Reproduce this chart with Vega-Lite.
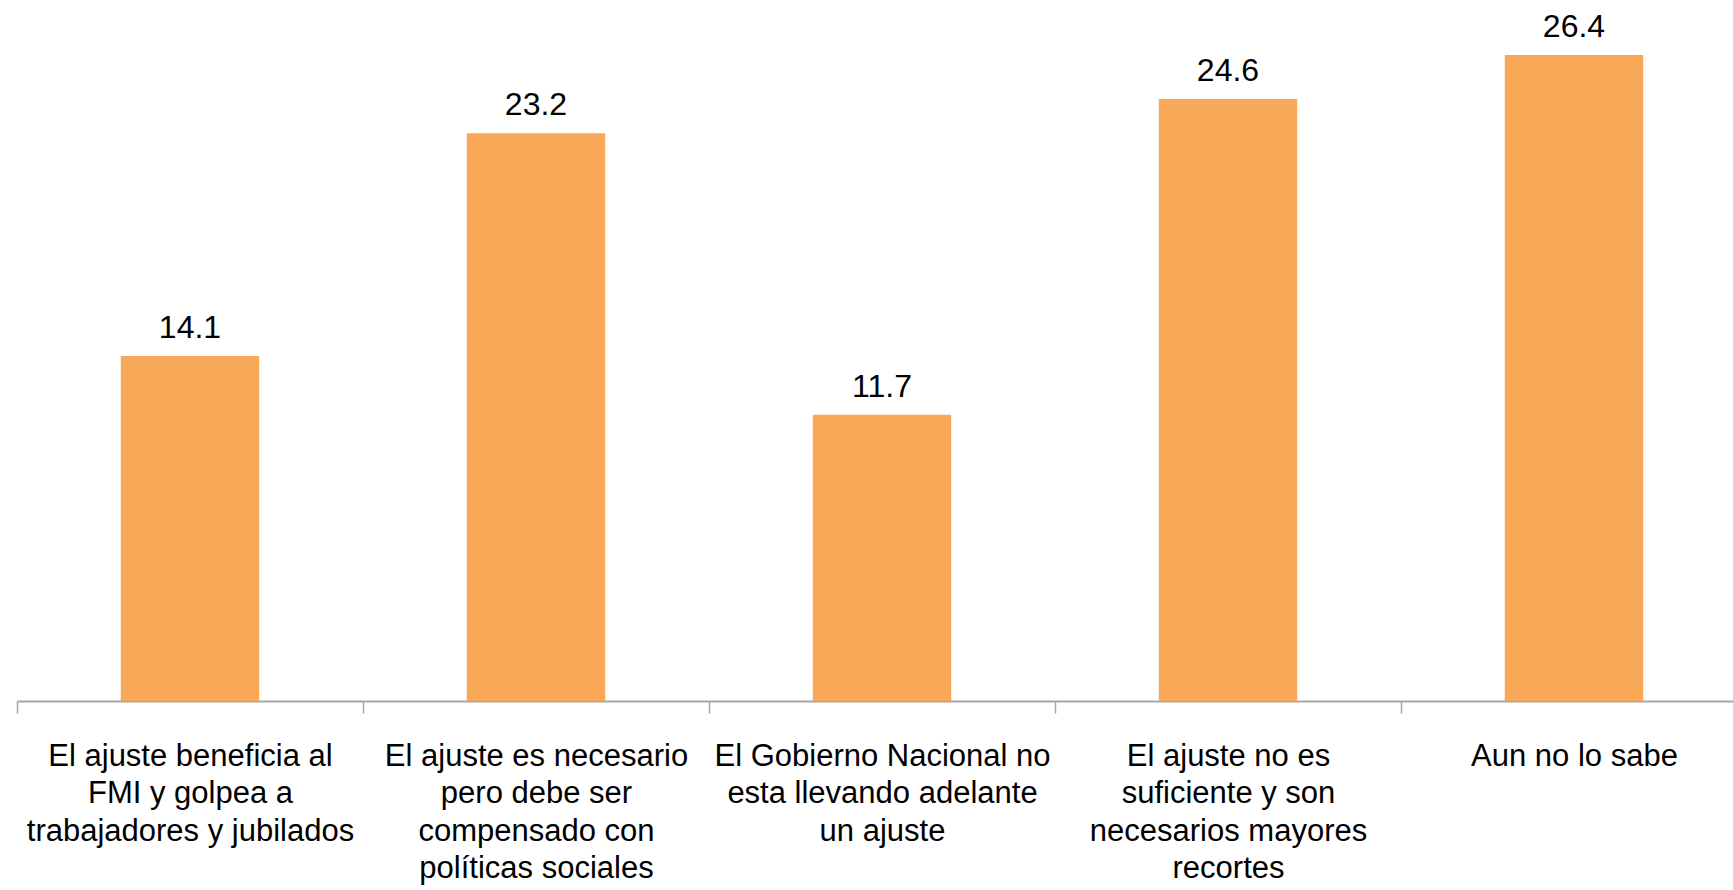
{
  "$schema": "https://vega.github.io/schema/vega-lite/v6.json",
  "width": 1730,
  "height": 701,
  "autosize": {"type": "none"},
  "padding": {"left": 17, "top": 0, "right": 0, "bottom": 189},
  "background": "white",
  "config": {"view": {"stroke": null}, "font": "Liberation Sans"},
  "data": {"values": [
    {"cat": "El ajuste beneficia al|FMI y golpea a|trabajadores y jubilados", "v": 14.1},
    {"cat": "El ajuste es necesario|pero debe ser|compensado con|políticas sociales", "v": 23.2},
    {"cat": "El Gobierno Nacional no|esta llevando adelante|un ajuste", "v": 11.7},
    {"cat": "El ajuste no es|suficiente y son|necesarios mayores|recortes", "v": 24.6},
    {"cat": "Aun no lo sabe", "v": 26.4}
  ]},
  "encoding": {
    "x": {"field": "cat", "type": "nominal", "sort": null,
      "scale": {"paddingInner": 0, "paddingOuter": 0},
      "axis": {"title": null, "labelAngle": 0, "labelExpr": "split(datum.label, '|')",
        "labelFont": "Liberation Sans", "labelFontSize": 31, "labelColor": "#000000",
        "labelLineHeight": 37.5, "labelLimit": 0, "labelPadding": 28,
        "tickBand": "extent", "tickSize": 12, "tickColor": "#a6a6a6", "tickWidth": 1.5,
        "domainColor": "#a6a6a6", "domainWidth": 2, "labelBaseline": "top"}},
    "y": {"field": "v", "type": "quantitative",
      "scale": {"domain": [0, 28.65], "nice": false},
      "axis": null}
  },
  "layer": [
    {"mark": {"type": "bar", "color": "#F9A857", "width": {"band": 0.4}}},
    {"mark": {"type": "text", "baseline": "alphabetic", "dy": -18, "fontSize": 32, "font": "Liberation Sans", "color": "#000000"},
      "encoding": {"text": {"field": "v", "type": "quantitative", "format": ".1f"}}}
  ]
}
